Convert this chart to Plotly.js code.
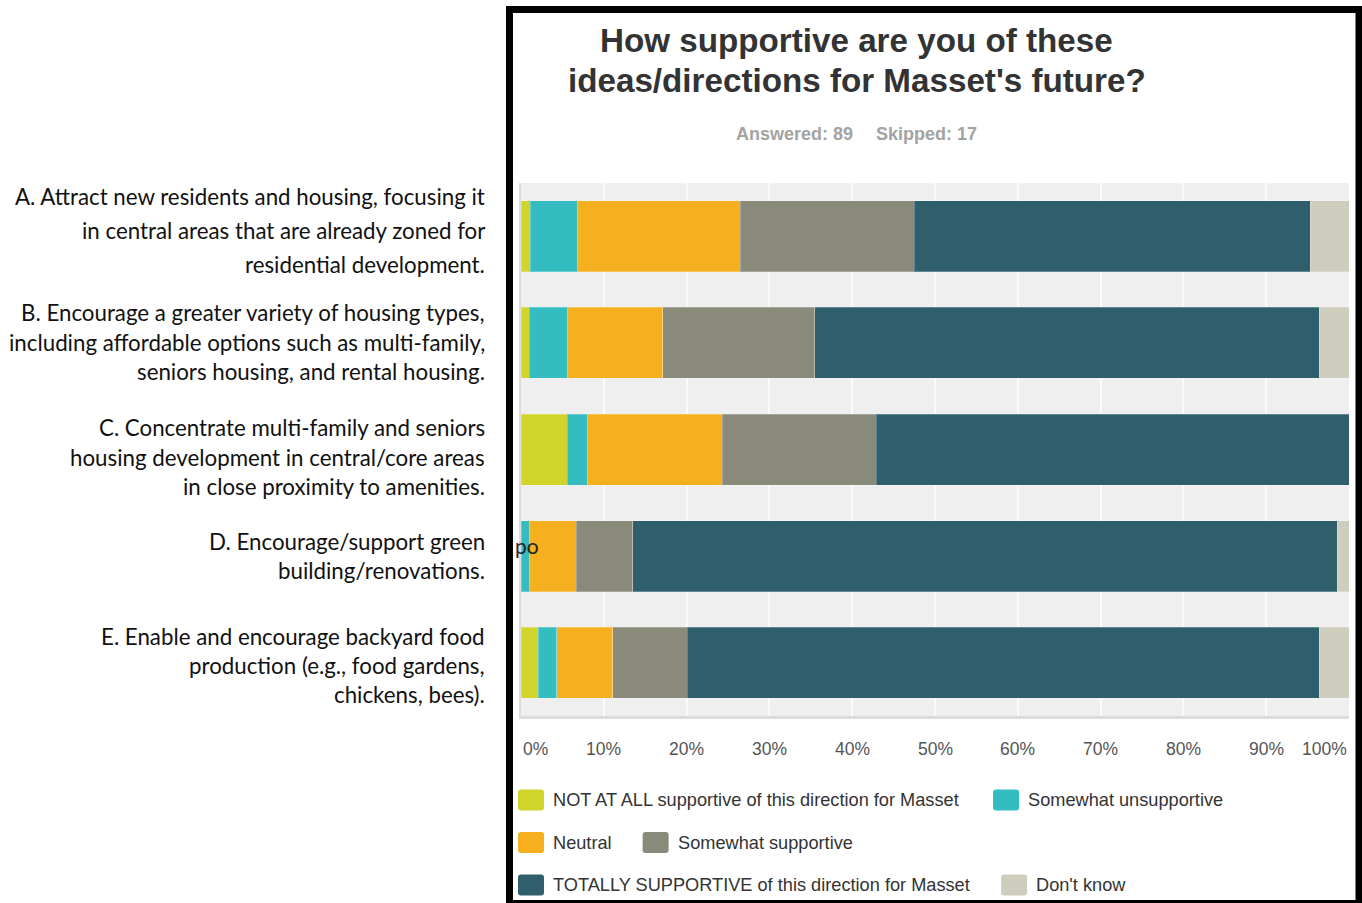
<!DOCTYPE html>
<html>
<head>
<meta charset="utf-8">
<script src="https://cdn.plot.ly/plotly-3.0.1.min.js"></script>
<style>
  html, body { margin: 0; padding: 0; background: #ffffff; }
  #chart { width: 1362px; height: 903px; }
</style>
</head>
<body>
<div id="chart"></div>
<script>
// ---------------- DATA ----------------
const categories = ["A", "B", "C", "D", "E"];

const categoryLabelLines = [
  ["A. Attract new residents and housing, focusing it", "in central areas that are already zoned for", "residential development."],
  ["B. Encourage a greater variety of housing types,", "including affordable options such as multi-family,", "seniors housing, and rental housing."],
  ["C. Concentrate multi-family and seniors", "housing development in central/core areas", "in close proximity to amenities."],
  ["D. Encourage/support green", "building/renovations."],
  ["E. Enable and encourage backyard food", "production (e.g., food gardens,", "chickens, bees)."]
];

const seriesNames = [
  "NOT AT ALL supportive of this direction for Masset",
  "Somewhat unsupportive",
  "Neutral",
  "Somewhat supportive",
  "TOTALLY SUPPORTIVE of this direction for Masset",
  "Don't know"
];

// percentages per category (A..E)
const notAtAll            = [1.1, 1.0, 5.6, 0.0, 2.1];
const somewhatUnsupport   = [5.7, 4.6, 2.4, 1.0, 2.2];
const neutral             = [19.7, 11.5, 16.3, 5.7, 6.8];
const somewhatSupportive  = [21.0, 18.4, 18.6, 6.8, 9.0];
const totallySupportive   = [47.8, 60.9, 57.1, 85.1, 76.3];
const dontKnow            = [4.7, 3.6, 0.0, 1.4, 3.6];

const seriesColors = ["#d0d42b", "#33bdc0", "#f6af1f", "#898a79", "#2f5f6d", "#cfcdbd"];

const tickValues = [0, 10, 20, 30, 40, 50, 60, 70, 80, 90, 100];
const tickLabels = ["0%", "10%", "20%", "30%", "40%", "50%", "60%", "70%", "80%", "90%", "100%"];

const chartTitleLines = ["How supportive are you of these", "ideas/directions for Masset's future?"];
const answeredText = "Answered: 89";
const skippedText = "Skipped: 17";

// ---------------- LAYOUT HELPERS ----------------
const FIG_W = 1362, FIG_H = 903;
const M = { l: 521, r: 13, t: 183, b: 187 };
const PL = M.l, PR = FIG_W - M.r, PT = M.t, PB = FIG_H - M.b;
const PW = PR - PL, PH = PB - PT;
const X = px => (px - PL) / PW;
const Y = py => (PB - py) / PH;

const seriesValues = [notAtAll, somewhatUnsupport, neutral, somewhatSupportive, totallySupportive, dontKnow];

const traces = seriesNames.map((name, i) => ({
  type: "bar",
  orientation: "h",
  name: name,
  x: seriesValues[i],
  y: categories,
  marker: { color: seriesColors[i], line: { color: "rgba(255,255,255,0.25)", width: 1 } },
  showlegend: false,
  hoverinfo: "skip"
}));

const annotations = [];
const shapes = [];

// Title
const titleY = [40, 80];
chartTitleLines.forEach((t, i) => {
  annotations.push({
    text: t, xref: "paper", yref: "paper", x: X(856.5), y: Y(titleY[i]),
    xanchor: "center", yanchor: "middle", showarrow: false,
    font: { family: "Liberation Sans, Arial, sans-serif", size: 33.2, color: "#333333", weight: "bold" }
  });
});
annotations.push({
  text: "<b>" + answeredText + "</b>", xref: "paper", yref: "paper", x: X(855), y: Y(134),
  xanchor: "right", yanchor: "middle", showarrow: false,
  font: { family: "Liberation Sans, Arial, sans-serif", size: 18, color: "#a3a3a3" }
});
annotations.push({
  text: "<b>" + skippedText + "</b>", xref: "paper", yref: "paper", x: X(874), y: Y(134),
  xanchor: "left", yanchor: "middle", showarrow: false,
  font: { family: "Liberation Sans, Arial, sans-serif", size: 18, color: "#a3a3a3" }
});

// X tick labels
tickValues.forEach((v, i) => {
  annotations.push({
    text: tickLabels[i], xref: "x", yref: "paper", x: v, y: Y(749),
    xanchor: i === 0 ? "left" : (i === tickValues.length - 1 ? "right" : "center"),
    yanchor: "middle", showarrow: false,
    font: { family: "Liberation Sans, Arial, sans-serif", size: 17.5, color: "#555555" }
  });
});

// Category labels on the left (outside the chart box)
const blockGap = [34, 29.5, 29.5, 29, 29];
const blockShift = [-6.3, -0.7, 7.9, 0, 3];
categoryLabelLines.forEach((lines, c) => {
  const n = lines.length;
  lines.forEach((line, i) => {
    const off = blockShift[c] + (i - (n - 1) / 2) * blockGap[c];
    annotations.push({
      text: line, xref: "paper", yref: "y", x: X(486.5), y: categories[c],
      yshift: -off, xanchor: "right", yanchor: "middle", showarrow: false,
      font: { family: "Lato, Carlito, sans-serif", size: 22.3, color: "#111111" }
    });
  });
});

// stray clipped text fragment visible in the original
annotations.push({
  text: "po", xref: "paper", yref: "paper", x: X(527), y: Y(545),
  xanchor: "center", yanchor: "middle", showarrow: false,
  font: { family: "Lato, Carlito, sans-serif", size: 21, color: "#222222" }
});

// Custom legend (flow layout)
const cv = document.createElement("canvas").getContext("2d");
const LEG_FONT = 18.2;
cv.font = LEG_FONT + "px 'Liberation Sans'";
function roundRectPath(x0, y0, x1, y1, r) {
  return "M " + X(x0 + r) + "," + Y(y0) +
    " L " + X(x1 - r) + "," + Y(y0) +
    " Q " + X(x1) + "," + Y(y0) + " " + X(x1) + "," + Y(y0 + r) +
    " L " + X(x1) + "," + Y(y1 - r) +
    " Q " + X(x1) + "," + Y(y1) + " " + X(x1 - r) + "," + Y(y1) +
    " L " + X(x0 + r) + "," + Y(y1) +
    " Q " + X(x0) + "," + Y(y1) + " " + X(x0) + "," + Y(y1 - r) +
    " L " + X(x0) + "," + Y(y0 + r) +
    " Q " + X(x0) + "," + Y(y0) + " " + X(x0 + r) + "," + Y(y0) + " Z";
}
const LEG_X0 = 518, LEG_LIMIT = 1320, SW_W = 26, SW_H = 21, SW_GAP = 7, ITEM_GAP = 33;
const rowY = [800, 842.5, 885];
let lx = LEG_X0, row = 0;
seriesNames.forEach((name, i) => {
  const tw = cv.measureText(name).width;
  const w = SW_W + SW_GAP + tw;
  if (lx > LEG_X0 && lx + w > LEG_LIMIT) { row += 1; lx = LEG_X0; }
  const cy = rowY[row];
  shapes.push({
    type: "path", xref: "paper", yref: "paper",
    path: roundRectPath(lx, cy - SW_H / 2, lx + SW_W, cy + SW_H / 2, 3),
    fillcolor: seriesColors[i], line: { width: 0 }
  });
  annotations.push({
    text: name, xref: "paper", yref: "paper", x: X(lx + SW_W + SW_GAP), y: Y(cy),
    xanchor: "left", yanchor: "middle", showarrow: false,
    font: { family: "Liberation Sans, Arial, sans-serif", size: LEG_FONT, color: "#333333" }
  });
  lx += w + ITEM_GAP;
});

// Black frame around chart image
shapes.push({
  type: "rect", xref: "paper", yref: "paper",
  x0: X(509.5), x1: X(1359), y0: Y(9.5), y1: Y(903.5),
  line: { color: "#000000", width: 7 }, fillcolor: "rgba(0,0,0,0)", layer: "above"
});

const layout = {
  width: FIG_W, height: FIG_H,
  margin: M,
  paper_bgcolor: "#ffffff",
  plot_bgcolor: "#efefef",
  barmode: "stack",
  bargap: 0.334,
  showlegend: false,
  xaxis: {
    range: [0, 100], fixedrange: true,
    tickvals: tickValues, showticklabels: false, ticks: "",
    showgrid: true, gridcolor: "#fbfbfb", gridwidth: 2,
    zeroline: false,
    showline: true, linecolor: "#dcdcdc", linewidth: 3
  },
  yaxis: {
    type: "category", categoryorder: "array", categoryarray: categories,
    autorange: "reversed", showticklabels: false, ticks: "",
    showgrid: false, zeroline: false,
    showline: true, linecolor: "#dcdcdc", linewidth: 2
  },
  annotations: annotations,
  shapes: shapes
};

Plotly.newPlot("chart", traces, layout, { staticPlot: true, displayModeBar: false });
</script>
</body>
</html>
